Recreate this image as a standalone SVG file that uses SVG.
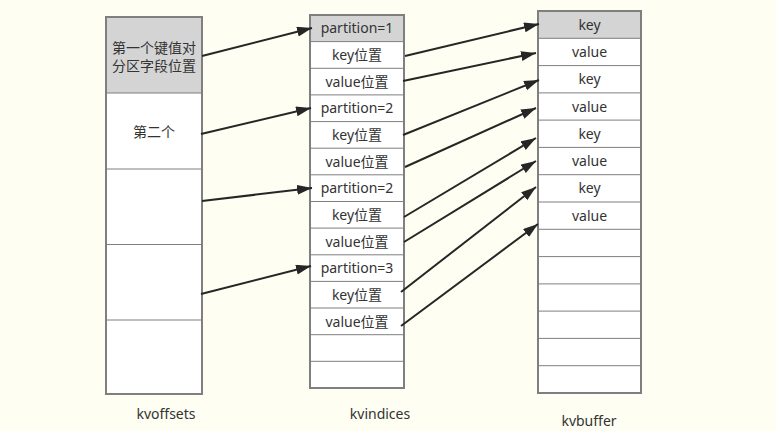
<svg xmlns="http://www.w3.org/2000/svg" width="776" height="431" viewBox="0 0 776 431">
<defs>
<style>
.t{font-family:"Noto Sans","Noto Sans CJK SC",sans-serif;font-size:14px;fill:#333;text-anchor:middle}
.box{fill:#fff;stroke:#7f7f7f;stroke-width:2}
.hd{fill:#d4d4d4}
.ln{stroke:#7f7f7f;stroke-width:1}
.ar{stroke:#262626;stroke-width:2;fill:none;marker-end:url(#ah)}
</style>
<marker id="ah" markerUnits="userSpaceOnUse" markerWidth="16" markerHeight="12" refX="15" refY="5" orient="auto">
<path d="M0,0 L15,5 L0,10 z" fill="#262626"/>
</marker>
</defs>
<rect width="776" height="431" fill="#fefef2"/>

<g id="kvoffsets">
<rect class="box" x="106" y="17" width="96" height="377"/>
<rect class="hd" x="107" y="18" width="94" height="75"/>
<line class="ln" x1="106" y1="93" x2="202" y2="93"/>
<line class="ln" x1="106" y1="169" x2="202" y2="169"/>
<line class="ln" x1="106" y1="244.5" x2="202" y2="244.5"/>
<line class="ln" x1="106" y1="320" x2="202" y2="320"/>
<text class="t" x="154" y="52.5">第一个键值对</text>
<text class="t" x="154" y="71">分区字段位置</text>
<text class="t" x="154" y="137">第二个</text>
<text class="t" x="166" y="419">kvoffsets</text>
</g>

<g id="kvindices">
<rect class="box" x="310" y="15" width="94" height="373"/>
<rect class="hd" x="311" y="16" width="92" height="25.6"/>
<g class="ln">
<line x1="310" y1="41.6" x2="404" y2="41.6"/>
<line x1="310" y1="68.3" x2="404" y2="68.3"/>
<line x1="310" y1="94.9" x2="404" y2="94.9"/>
<line x1="310" y1="121.6" x2="404" y2="121.6"/>
<line x1="310" y1="148.2" x2="404" y2="148.2"/>
<line x1="310" y1="174.8" x2="404" y2="174.8"/>
<line x1="310" y1="201.5" x2="404" y2="201.5"/>
<line x1="310" y1="228.1" x2="404" y2="228.1"/>
<line x1="310" y1="254.8" x2="404" y2="254.8"/>
<line x1="310" y1="281.4" x2="404" y2="281.4"/>
<line x1="310" y1="308" x2="404" y2="308"/>
<line x1="310" y1="334.7" x2="404" y2="334.7"/>
<line x1="310" y1="361.3" x2="404" y2="361.3"/>
</g>
<text class="t" x="357" y="33">partition=1</text>
<text class="t" x="357" y="60">key位置</text>
<text class="t" x="357" y="86.5">value位置</text>
<text class="t" x="357" y="113">partition=2</text>
<text class="t" x="357" y="140">key位置</text>
<text class="t" x="357" y="166.5">value位置</text>
<text class="t" x="357" y="193">partition=2</text>
<text class="t" x="357" y="220">key位置</text>
<text class="t" x="357" y="246.5">value位置</text>
<text class="t" x="357" y="273">partition=3</text>
<text class="t" x="357" y="300">key位置</text>
<text class="t" x="357" y="326.5">value位置</text>
<text class="t" x="380" y="419">kvindices</text>
</g>

<g id="kvbuffer">
<rect class="box" x="538" y="11" width="103" height="382"/>
<rect class="hd" x="539" y="12" width="101" height="26.3"/>
<g class="ln">
<line x1="538" y1="38.3" x2="641" y2="38.3"/>
<line x1="538" y1="65.6" x2="641" y2="65.6"/>
<line x1="538" y1="92.9" x2="641" y2="92.9"/>
<line x1="538" y1="120.1" x2="641" y2="120.1"/>
<line x1="538" y1="147.4" x2="641" y2="147.4"/>
<line x1="538" y1="174.7" x2="641" y2="174.7"/>
<line x1="538" y1="202" x2="641" y2="202"/>
<line x1="538" y1="229.3" x2="641" y2="229.3"/>
<line x1="538" y1="256.6" x2="641" y2="256.6"/>
<line x1="538" y1="283.9" x2="641" y2="283.9"/>
<line x1="538" y1="311.1" x2="641" y2="311.1"/>
<line x1="538" y1="338.4" x2="641" y2="338.4"/>
<line x1="538" y1="365.7" x2="641" y2="365.7"/>
</g>
<text class="t" x="589.5" y="29.5">key</text>
<text class="t" x="589.5" y="57">value</text>
<text class="t" x="589.5" y="84">key</text>
<text class="t" x="589.5" y="111.5">value</text>
<text class="t" x="589.5" y="138.5">key</text>
<text class="t" x="589.5" y="166">value</text>
<text class="t" x="589.5" y="193">key</text>
<text class="t" x="589.5" y="220.5">value</text>
<text class="t" x="589" y="426">kvbuffer</text>
</g>

<g id="connectors">
<line class="ar" x1="202" y1="56" x2="312" y2="28"/>
<line class="ar" x1="201" y1="134" x2="311" y2="108"/>
<line class="ar" x1="202" y1="201" x2="312" y2="188"/>
<line class="ar" x1="201" y1="294" x2="311" y2="266"/>
<line class="ar" x1="405" y1="56" x2="539" y2="24"/>
<line class="ar" x1="403" y1="81" x2="536" y2="53"/>
<line class="ar" x1="403" y1="135" x2="539" y2="80"/>
<line class="ar" x1="405" y1="167" x2="536" y2="108"/>
<line class="ar" x1="404" y1="217" x2="536" y2="138"/>
<line class="ar" x1="404" y1="242" x2="536" y2="161"/>
<line class="ar" x1="401" y1="292" x2="536" y2="187"/>
<line class="ar" x1="401" y1="326" x2="538" y2="224"/>
</g>
</svg>
